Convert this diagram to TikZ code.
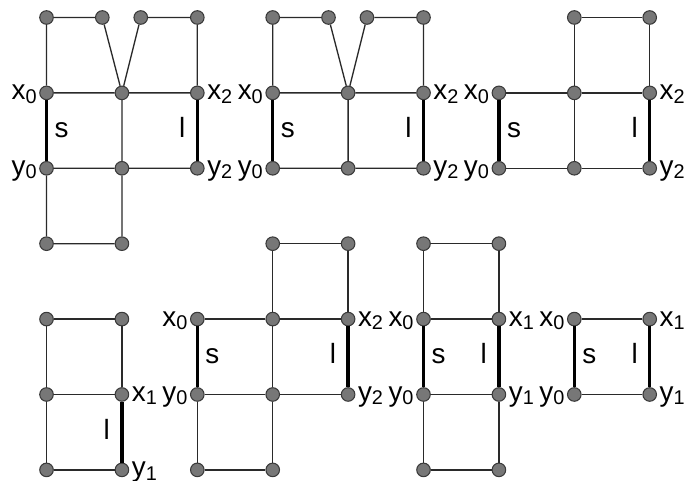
\documentclass[tikz,border=0pt]{standalone}
\usepackage{fontspec}
\setmainfont{Liberation Sans}
\definecolor{nodegray}{HTML}{777777}
\definecolor{nodeedge}{HTML}{3A3A3A}
\definecolor{edgegray}{HTML}{2A2A2A}
\newcommand\mylbl[2]{#1\raisebox{-1.2pt}{\fontsize{7.5}{8}\selectfont #2}}
\begin{document}
\begin{tikzpicture}[
  v/.style={circle, fill=nodegray, draw=nodeedge, line width=0.4pt, minimum size=0.18cm, inner sep=0pt},
  e/.style={draw=edgegray, line width=0.5pt},
  th/.style={draw=black, line width=1.25pt},
  lab/.style={font=\fontsize{10.5}{12}\selectfont, inner sep=0.8pt},
  ll/.style={lab, anchor=mid east},
  rl/.style={lab, anchor=mid west},
  ml/.style={lab, anchor=mid}
]
\useasboundingbox (-0.617,-6.147) rectangle (8.468,0.232);
% ---------- panel 1 ----------
\node[v] (a1) at (0,0) {};
\node[v] (a2) at (0.74,0) {};
\node[v] (a3) at (1.25,0) {};
\node[v] (a4) at (2,0) {};
\node[v] (a5) at (0,-1) {};
\node[v] (a6) at (1,-1) {};
\node[v] (a7) at (2,-1) {};
\node[v] (a8) at (0,-2) {};
\node[v] (a9) at (1,-2) {};
\node[v] (a10) at (2,-2) {};
\node[v] (a11) at (0,-3) {};
\node[v] (a12) at (1,-3) {};
\draw[e] (a1) -- (a2) (a3) -- (a4) (a1) -- (a5) (a4) -- (a7)
  (a2) -- (a6) (a3) -- (a6) (a5) -- (a6) (a6) -- (a7) (a6) -- (a9)
  (a8) -- (a9) (a9) -- (a10) (a8) -- (a11) (a9) -- (a12) (a11) -- (a12);
\draw[th] (a5) -- (a8) (a7) -- (a10);
\node[ll] (a5l) at (a5.west) {\mylbl{x}{0}};
\node[ll] (a8l) at (a8.west) {\mylbl{y}{0}};
\node[rl] (a7l) at (a7.east) {\mylbl{x}{2}};
\node[rl] (a10l) at (a10.east) {\mylbl{y}{2}};
\node[ml] (as) at (0.2,-1.5) {s};
\node[ml] (al) at (1.8,-1.5) {l};
% ---------- panel 2 ----------
\node[v] (b1) at (3,0) {};
\node[v] (b2) at (3.74,0) {};
\node[v] (b3) at (4.25,0) {};
\node[v] (b4) at (5,0) {};
\node[v] (b5) at (3,-1) {};
\node[v] (b6) at (4,-1) {};
\node[v] (b7) at (5,-1) {};
\node[v] (b8) at (3,-2) {};
\node[v] (b9) at (4,-2) {};
\node[v] (b10) at (5,-2) {};
\draw[e] (b1) -- (b2) (b3) -- (b4) (b1) -- (b5) (b4) -- (b7)
  (b2) -- (b6) (b3) -- (b6) (b5) -- (b6) (b6) -- (b7) (b6) -- (b9)
  (b8) -- (b9) (b9) -- (b10);
\draw[th] (b5) -- (b8) (b7) -- (b10);
\node[ll] (b5l) at (b5.west) {\mylbl{x}{0}};
\node[ll] (b8l) at (b8.west) {\mylbl{y}{0}};
\node[rl] (b7l) at (b7.east) {\mylbl{x}{2}};
\node[rl] (b10l) at (b10.east) {\mylbl{y}{2}};
\node[ml] (bs) at (3.2,-1.5) {s};
\node[ml] (bl) at (4.8,-1.5) {l};
% ---------- panel 3 ----------
\node[v] (c1) at (7,0) {};
\node[v] (c2) at (8,0) {};
\node[v] (c3) at (6,-1) {};
\node[v] (c4) at (7,-1) {};
\node[v] (c5) at (8,-1) {};
\node[v] (c6) at (6,-2) {};
\node[v] (c7) at (7,-2) {};
\node[v] (c8) at (8,-2) {};
\draw[e] (c1) -- (c2) (c1) -- (c4) (c2) -- (c5) (c3) -- (c4) (c4) -- (c5)
  (c4) -- (c7) (c6) -- (c7) (c7) -- (c8);
\draw[th] (c3) -- (c6) (c5) -- (c8);
\node[ll] (c3l) at (c3.west) {\mylbl{x}{0}};
\node[ll] (c6l) at (c6.west) {\mylbl{y}{0}};
\node[rl] (c5l) at (c5.east) {\mylbl{x}{2}};
\node[rl] (c8l) at (c8.east) {\mylbl{y}{2}};
\node[ml] (cs) at (6.2,-1.5) {s};
\node[ml] (cl) at (7.8,-1.5) {l};
% ---------- panel 4 ----------
\node[v] (d1) at (0,-4) {};
\node[v] (d2) at (1,-4) {};
\node[v] (d3) at (0,-5) {};
\node[v] (d4) at (1,-5) {};
\node[v] (d5) at (0,-6) {};
\node[v] (d6) at (1,-6) {};
\draw[e] (d1) -- (d2) (d1) -- (d3) (d2) -- (d4) (d3) -- (d4) (d3) -- (d5) (d5) -- (d6);
\draw[th] (d4) -- (d6);
\node[rl] (d4l) at (d4.east) {\mylbl{x}{1}};
\node[rl] (d6l) at (d6.east) {\mylbl{y}{1}};
\node[ml] (dl) at (0.8,-5.5) {l};
% ---------- panel 5 ----------
\node[v] (f1) at (3,-3) {};
\node[v] (f2) at (4,-3) {};
\node[v] (f3) at (2,-4) {};
\node[v] (f4) at (3,-4) {};
\node[v] (f5) at (4,-4) {};
\node[v] (f6) at (2,-5) {};
\node[v] (f7) at (3,-5) {};
\node[v] (f8) at (4,-5) {};
\node[v] (f9) at (2,-6) {};
\node[v] (f10) at (3,-6) {};
\draw[e] (f1) -- (f2) (f1) -- (f4) (f2) -- (f5) (f3) -- (f4) (f4) -- (f5)
  (f4) -- (f7) (f6) -- (f7) (f7) -- (f8) (f6) -- (f9) (f7) -- (f10) (f9) -- (f10);
\draw[th] (f3) -- (f6) (f5) -- (f8);
\node[ll] (f3l) at (f3.west) {\mylbl{x}{0}};
\node[ll] (f6l) at (f6.west) {\mylbl{y}{0}};
\node[rl] (f5l) at (f5.east) {\mylbl{x}{2}};
\node[rl] (f8l) at (f8.east) {\mylbl{y}{2}};
\node[ml] (fs) at (2.2,-4.5) {s};
\node[ml] (fl) at (3.8,-4.5) {l};
% ---------- panel 6 ----------
\node[v] (g1) at (5,-3) {};
\node[v] (g2) at (6,-3) {};
\node[v] (g3) at (5,-4) {};
\node[v] (g4) at (6,-4) {};
\node[v] (g5) at (5,-5) {};
\node[v] (g6) at (6,-5) {};
\node[v] (g7) at (5,-6) {};
\node[v] (g8) at (6,-6) {};
\draw[e] (g1) -- (g2) (g1) -- (g3) (g2) -- (g4) (g3) -- (g4)
  (g5) -- (g6) (g5) -- (g7) (g6) -- (g8) (g7) -- (g8);
\draw[th] (g3) -- (g5) (g4) -- (g6);
\node[ll] (g3l) at (g3.west) {\mylbl{x}{0}};
\node[ll] (g5l) at (g5.west) {\mylbl{y}{0}};
\node[rl] (g4l) at (g4.east) {\mylbl{x}{1}};
\node[rl] (g6l) at (g6.east) {\mylbl{y}{1}};
\node[ml] (gs) at (5.2,-4.5) {s};
\node[ml] (gl) at (5.8,-4.5) {l};
% ---------- panel 7 ----------
\node[v] (h1) at (7,-4) {};
\node[v] (h2) at (8,-4) {};
\node[v] (h3) at (7,-5) {};
\node[v] (h4) at (8,-5) {};
\draw[e] (h1) -- (h2) (h3) -- (h4);
\draw[th] (h1) -- (h3) (h2) -- (h4);
\node[ll] (h1l) at (h1.west) {\mylbl{x}{0}};
\node[ll] (h3l) at (h3.west) {\mylbl{y}{0}};
\node[rl] (h2l) at (h2.east) {\mylbl{x}{1}};
\node[rl] (h4l) at (h4.east) {\mylbl{y}{1}};
\node[ml] (hs) at (7.2,-4.5) {s};
\node[ml] (hl) at (7.8,-4.5) {l};
\end{tikzpicture}
\end{document}
